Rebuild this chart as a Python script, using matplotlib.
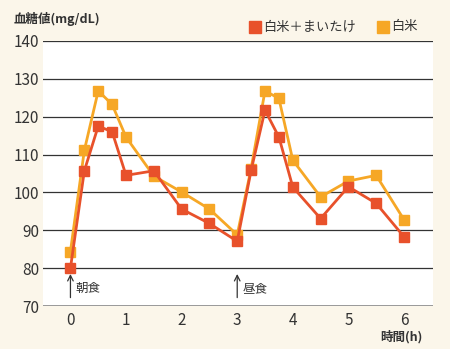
import matplotlib.pyplot as plt
from matplotlib.patches import Rectangle

plt.rcParams['font.family'] = ['Noto Sans CJK JP', 'DejaVu Sans']

# data
hours = [0, 0.25, 0.5, 0.75, 1, 1.5, 2, 2.5, 3, 3.25, 3.5, 3.75, 4, 4.5, 5, 5.5, 6]
rice_maitake = [80, 105.7, 117.5, 116, 104.5, 105.7, 95.6, 91.8, 87.1,
                105.8, 121.7, 114.6, 101.4, 93.1, 101.5, 97.1, 88.3]
rice = [84.4, 111.1, 126.8, 123.2, 114.6, 104.3, 100.1, 95.6, 88.8,
        106.3, 126.8, 124.8, 108.5, 98.8, 103, 104.5, 92.8]
labels = ['白米＋まいたけ', '白米']
yticks = [70, 80, 90, 100, 110, 120, 130, 140]
xticks = [0, 1, 2, 3, 4, 5, 6]

red = '#e8512b'
orange = '#f6a726'
bg = '#fbf6ea'

fig = plt.figure(figsize=(4.5, 3.49), dpi=100)
fig.patch.set_facecolor(bg)
ax = fig.add_axes([0.096, 0.123, 0.866, 0.76])
ax.set_facecolor('white')

for y in yticks[1:]:
    ax.axhline(y, color='#333333', lw=0.9, zorder=1)
ax.axhline(70, color='#888888', lw=1.2, zorder=1)

ax.plot(hours, rice, color=orange, lw=2, marker='s', ms=7, zorder=3)
ax.plot(hours, rice_maitake, color=red, lw=2, marker='s', ms=7.5, zorder=4)

ax.set_xlim(-0.49, 6.52)
ax.set_ylim(70, 140)
ax.set_xticks(xticks)
ax.set_yticks(yticks)
ax.tick_params(length=0, labelsize=11, colors='#333333', pad=4)
ax.tick_params(axis='y', pad=3)
for s in ax.spines.values():
    s.set_visible(False)

# meal markers
for x, t in [(0, '朝食'), (3, '昼食')]:
    ax.annotate('', xy=(x, 79.2), xytext=(x, 71.5),
                arrowprops=dict(arrowstyle='->', color='#333333', lw=0.9))
    ax.text(x + 0.1, 74.6, t, fontsize=9, color='#333333', va='center')

fig.text(0.94, 0.036, '時間(h)', fontsize=9, color='#333333', ha='right', va='center',
         fontweight='bold')
fig.text(0.03, 0.945, '血糖値(mg/dL)', fontsize=9, color='#333333', va='center',
         fontweight='bold')

# legend
for xf, col, lab in [(0.553, red, labels[0]), (0.838, orange, labels[1])]:
    fig.patches.append(Rectangle((xf, 0.905), 0.027, 0.036, transform=fig.transFigure,
                                 color=col))
    fig.text(xf + 0.031, 0.923, lab, fontsize=9.5, color='#333333', va='center')

fig.savefig('out.png', dpi=100, facecolor=bg)
